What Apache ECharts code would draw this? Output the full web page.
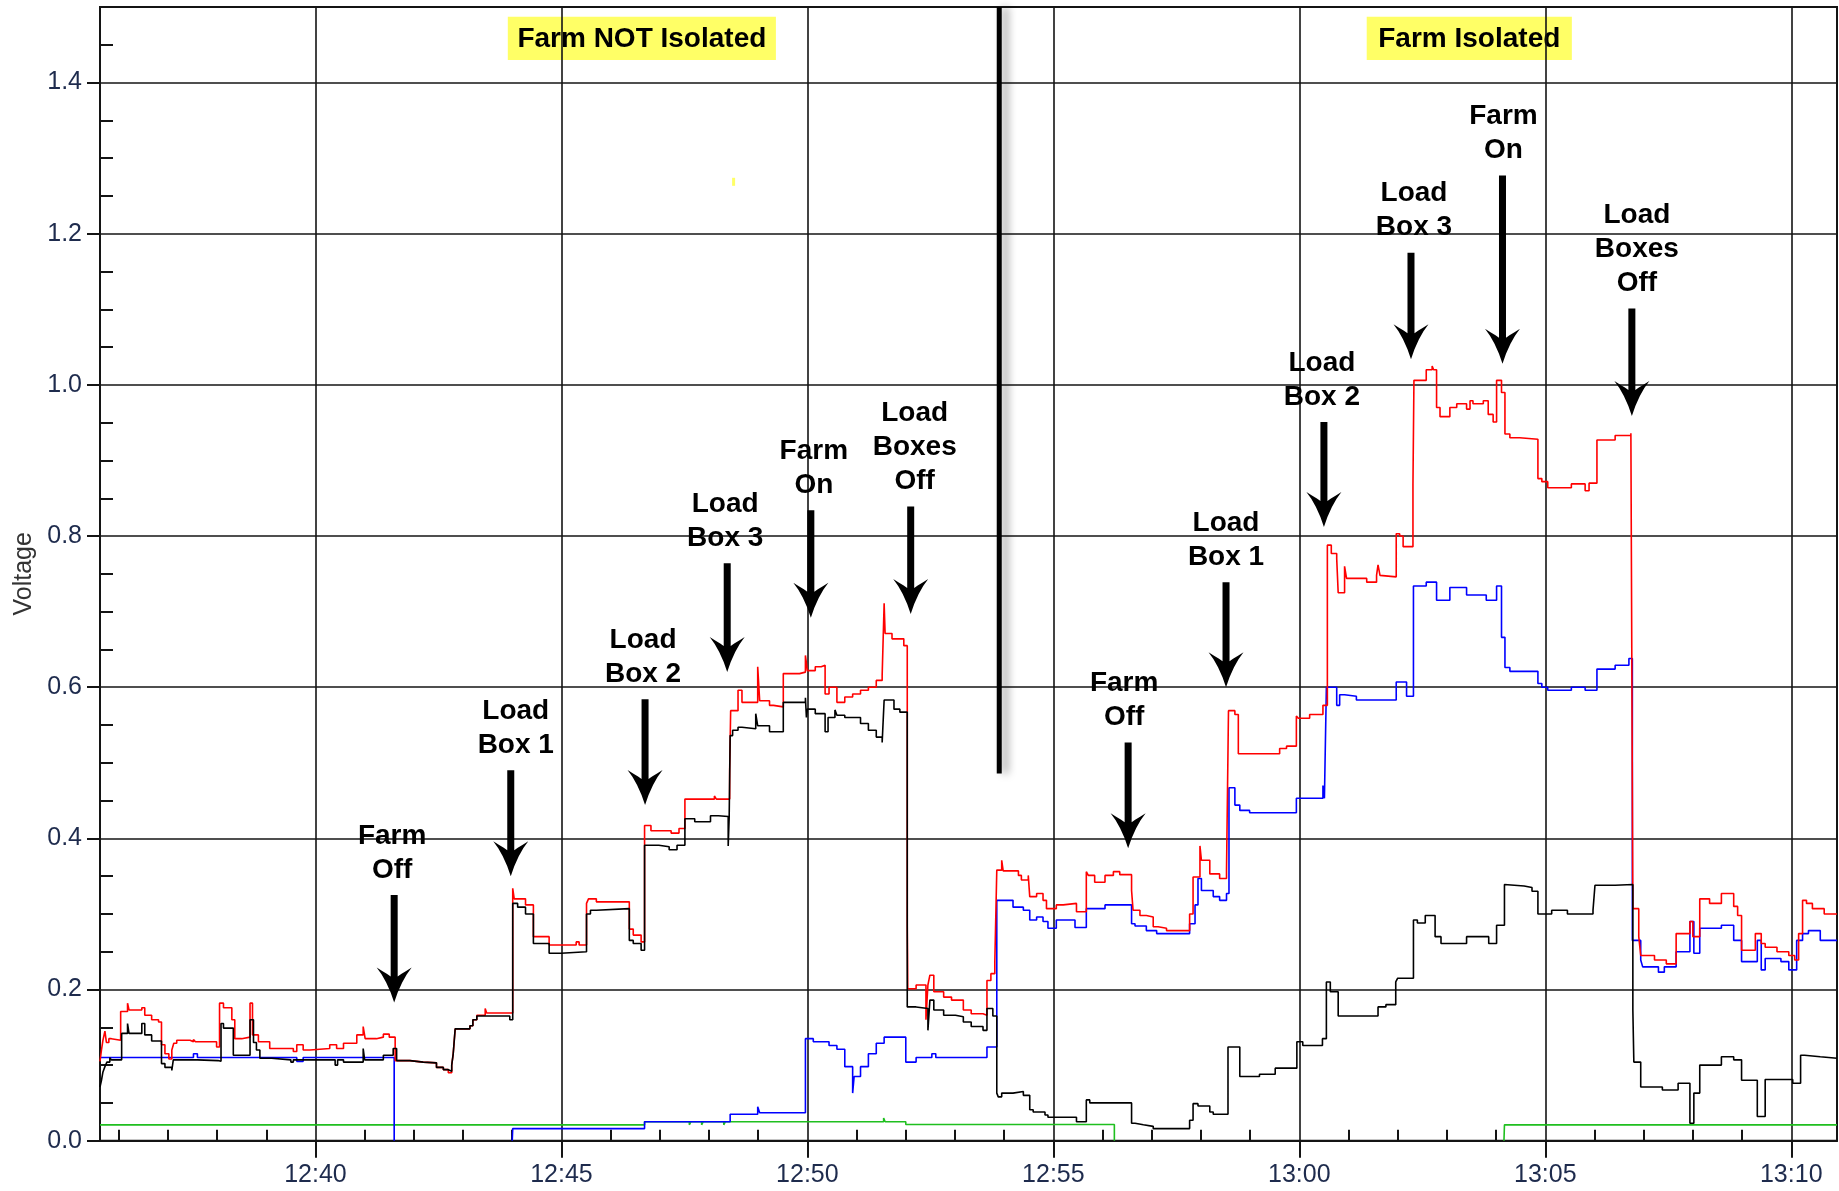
<!DOCTYPE html>
<html>
<head>
<meta charset="utf-8">
<title>Voltage</title>
<script src="https://cdn.jsdelivr.net/npm/echarts@6/dist/echarts.min.js"></script>
<style>
  html, body { margin: 0; padding: 0; background: #ffffff; }
  #chart { width: 1839px; height: 1191px; }
</style>
</head>
<body>
<div id="chart"></div>
<script>
// Time is expressed in minutes after 12:00; each pair is [time, level] and the
// level holds until the next pair (stepped trace).
const redTrace = [
  [35.62,0.105],[35.65,0.12],[35.68,0.133],[35.72,0.145],[35.75,0.13],[35.8,0.135],[35.85,0.133],
  [36.04,0.171],[36.18,0.182],[36.21,0.173],[36.47,0.176],[36.53,0.166],[36.67,0.16],[36.81,0.157],[36.87,0.127],[36.94,0.115],[37.02,0.108],[37.08,0.12],[37.12,0.129],[37.18,0.133],[37.45,0.131],[37.52,0.134],[37.56,0.131],[37.99,0.124],[38.05,0.182],[38.13,0.176],[38.3,0.16],[38.36,0.135],[38.5,0.137],[38.67,0.182],[38.72,0.14],[38.84,0.131],[39.07,0.122],[39.55,0.118],[39.62,0.127],[39.75,0.12],[39.89,0.122],[40.29,0.127],[40.43,0.122],[40.57,0.129],[40.84,0.14],[40.97,0.151],[41.01,0.135],[41.24,0.137],[41.38,0.141],[41.5,0.137],
  [41.62,0.106],[41.92,0.104],[42.19,0.103],[42.46,0.097],[42.6,0.094],[42.7,0.09],[42.77,0.1],[42.8,0.115],[42.84,0.148],[43.14,0.152],[43.2,0.16],[43.28,0.166],[43.45,0.175],[43.48,0.169],
  [44.01,0.334],[44.04,0.32],[44.27,0.312],[44.43,0.27],[44.75,0.259],[45.3,0.263],[45.36,0.259],[45.51,0.314],[45.55,0.32],[45.71,0.316],[46.38,0.28],[46.46,0.272],[46.62,0.263],
  [46.69,0.417],[46.82,0.41],[47.23,0.407],[47.39,0.413],[47.51,0.452],[48.11,0.456],[48.15,0.452],[48.42,0.49],[48.44,0.569],[48.59,0.596],[48.67,0.58],[48.99,0.627],[49.03,0.582],[49.23,0.576],[49.31,0.574],[49.51,0.618],[49.84,0.62],[49.96,0.642],[50.0,0.622],[50.16,0.627],[50.28,0.629],[50.36,0.591],[50.44,0.6],[50.6,0.58],[50.76,0.587],[50.92,0.591],[51.08,0.596],[51.24,0.6],[51.4,0.609],[51.52,0.616],[51.56,0.711],[51.58,0.671],[51.72,0.664],[51.96,0.655],
  [52.03,0.285],[52.035,0.248],[52.04,0.201],[52.21,0.206],[52.41,0.16],[52.45,0.206],[52.49,0.219],[52.57,0.197],[52.77,0.19],[52.93,0.186],[53.17,0.173],[53.33,0.168],[53.57,0.166],[53.65,0.212],[53.73,0.221],[53.81,0.237],
  [53.85,0.358],[53.95,0.371],[53.98,0.357],[54.29,0.351],[54.35,0.345],[54.49,0.351],[54.52,0.323],[54.66,0.327],[54.79,0.318],[54.86,0.307],[55.06,0.312],[55.2,0.314],[55.47,0.303],[55.67,0.356],[55.71,0.351],[55.84,0.342],[56.05,0.351],[56.22,0.356],[56.35,0.352],[56.59,0.331],[56.62,0.305],[56.76,0.298],[56.89,0.296],[57.03,0.283],[57.13,0.281],[57.3,0.278],[57.77,0.3],[57.84,0.349],[57.98,0.39],[58.01,0.371],[58.18,0.353],[58.38,0.347],[58.52,0.358],
  [58.56,0.569],[58.69,0.564],[58.76,0.512],[59.6,0.519],[59.74,0.522],[59.94,0.562],[59.98,0.559],[60.21,0.564],[60.48,0.576],
  [60.57,0.788],[60.65,0.777],[60.76,0.77],[60.79,0.725],[60.92,0.76],[60.96,0.744],[61.37,0.739],[61.57,0.748],[61.6,0.762],[61.64,0.748],[61.67,0.746],[61.97,0.803],[62.04,0.8],[62.11,0.786],
  [62.31,0.869],[62.33,1.006],[62.58,1.02],[62.7,1.025],[62.73,1.02],[62.79,0.97],[62.86,0.958],[63.06,0.97],[63.2,0.975],[63.4,0.968],[63.47,0.979],[63.53,0.975],[63.74,0.979],[63.84,0.961],[63.94,0.951],[64.01,1.006],[64.11,0.99],[64.18,0.935],[64.28,0.93],[64.48,0.928],[64.85,0.876],[64.93,0.872],[65.05,0.864],[65.53,0.869],[65.81,0.86],[65.89,0.87],[66.05,0.927],[66.42,0.933],[66.74,0.936],
  [66.78,0.307],[66.9,0.27],[66.94,0.245],[67.22,0.239],[67.46,0.234],[67.66,0.274],[67.94,0.29],[68.0,0.27],[68.14,0.32],[68.34,0.314],[68.58,0.327],[68.83,0.31],[68.91,0.298],[68.99,0.252],[69.27,0.274],[69.39,0.261],[69.47,0.256],[69.71,0.25],[69.95,0.245],[70.07,0.239],[70.15,0.274],[70.23,0.318],[70.31,0.314],[70.43,0.307],[70.67,0.3],[70.93,0.3]
];

const blackTrace = [
  [35.62,0.071],[35.65,0.08],[35.68,0.091],[35.72,0.098],[35.76,0.104],[35.82,0.11],[35.85,0.107],
  [36.06,0.142],[36.18,0.155],[36.21,0.142],[36.47,0.155],[36.53,0.14],[36.67,0.132],[36.87,0.102],[36.94,0.097],[37.08,0.093],[37.11,0.107],[37.6,0.106],[38.02,0.105],[38.08,0.155],[38.13,0.149],[38.33,0.113],[38.67,0.16],[38.74,0.13],[38.8,0.12],[38.87,0.109],[39.11,0.107],[39.5,0.104],[39.55,0.107],[40.4,0.1],[40.45,0.107],[40.57,0.104],[40.97,0.122],[41.0,0.107],[41.38,0.113],[41.58,0.122],
  [41.65,0.106],[41.92,0.104],[42.19,0.103],[42.46,0.097],[42.6,0.094],[42.7,0.092],[42.77,0.1],[42.8,0.115],[42.84,0.148],[43.14,0.152],[43.2,0.16],[43.28,0.165],[43.95,0.16],
  [44.01,0.314],[44.11,0.309],[44.27,0.3],[44.43,0.261],[44.75,0.248],[44.99,0.25],[45.51,0.3],[45.59,0.305],[45.71,0.307],[46.38,0.265],[46.46,0.261],[46.62,0.252],
  [46.69,0.391],[46.98,0.389],[47.19,0.385],[47.35,0.391],[47.51,0.426],[47.71,0.422],[48.03,0.43],[48.19,0.429],[48.39,0.39],[48.41,0.428],
  [48.43,0.536],[48.48,0.543],[48.59,0.547],[48.67,0.545],[48.95,0.565],[48.99,0.549],[49.23,0.541],[49.51,0.58],[49.96,0.586],[49.98,0.56],[50.0,0.571],[50.16,0.565],[50.36,0.541],[50.42,0.56],[50.56,0.57],[50.6,0.563],[50.76,0.56],[51.08,0.552],[51.24,0.543],[51.4,0.534],[51.52,0.527],[51.56,0.583],[51.76,0.571],[51.88,0.567],
  [52.03,0.177],[52.21,0.175],[52.45,0.146],[52.49,0.186],[52.57,0.173],[52.77,0.166],[53.01,0.164],[53.17,0.157],[53.33,0.151],[53.57,0.146],[53.65,0.175],[53.77,0.165],
  [53.85,0.063],[53.88,0.058],[53.95,0.063],[54.18,0.065],[54.39,0.06],[54.52,0.041],[54.59,0.038],[54.83,0.034],[54.89,0.031],[55.47,0.025],[55.67,0.054],[55.74,0.05],[56.59,0.023],[56.66,0.021],[56.83,0.019],[57.03,0.016],[57.77,0.027],[57.84,0.049],[57.94,0.046],[58.18,0.038],[58.25,0.035],
  [58.55,0.124],[58.71,0.124],[58.79,0.085],[59.19,0.088],[59.51,0.096],[59.95,0.131],[60.07,0.126],[60.47,0.135],[60.55,0.21],[60.63,0.197],[60.79,0.165],[61.6,0.177],[61.76,0.18],[61.96,0.21],[62.0,0.215],[62.32,0.292],[62.4,0.288],[62.56,0.298],[62.76,0.27],[62.88,0.261],[63.4,0.27],[63.85,0.261],[64.01,0.285],[64.17,0.339],[64.21,0.337],[64.57,0.335],[64.73,0.33],[64.85,0.3],[65.13,0.305],[65.45,0.3],[65.97,0.305],[66.01,0.338],[66.42,0.339],
  [66.78,0.173],[66.8,0.104],[66.94,0.071],[67.38,0.067],[67.7,0.076],[67.94,0.023],[68.02,0.063],[68.14,0.1],[68.58,0.111],[68.83,0.107],[68.99,0.08],[69.31,0.032],[69.47,0.081],[70.03,0.076],[70.19,0.113],[70.27,0.111],[70.59,0.109],[70.93,0.109]
];

const blueTrace = [
  [35.62,0.11],[37.52,0.115],[37.6,0.11],[39.62,0.105],[39.75,0.11],[41.6,0],[41.61,null],[44.0,0],[44.01,0.016],[46.69,0.025],[48.43,0.035],[48.99,0.045],[49.03,0.037],
  [49.96,0.135],[50.12,0.131],[50.44,0.126],[50.6,0.121],[50.76,0.098],[50.92,0.063],[50.95,0.085],[51.08,0.098],[51.24,0.115],[51.4,0.129],[51.56,0.137],[52.0,0.104],[52.21,0.11],[52.53,0.115],[52.61,0.11],[53.65,0.124],
  [53.85,0.318],[54.18,0.309],[54.39,0.305],[54.52,0.292],[54.66,0.296],[54.79,0.29],[54.89,0.281],[55.06,0.292],[55.44,0.282],[55.67,0.307],[56.05,0.312],[56.59,0.287],[56.66,0.284],[56.89,0.278],[57.1,0.274],[57.77,0.287],[57.88,0.312],[57.94,0.347],[58.01,0.331],[58.25,0.323],[58.38,0.318],[58.52,0.327],
  [58.57,0.467],[58.69,0.444],[58.79,0.437],[58.99,0.434],[59.94,0.453],[60.48,0.47],[60.51,0.453],
  [60.55,0.6],[60.76,0.576],[60.82,0.59],[60.92,0.588],[61.16,0.583],[61.97,0.607],[62.18,0.588],
  [62.32,0.734],[62.58,0.739],[62.79,0.715],[63.06,0.732],[63.4,0.722],[63.8,0.715],[64.01,0.734],[64.11,0.666],[64.18,0.626],[64.28,0.621],[64.85,0.605],[64.93,0.6],[65.05,0.596],[65.53,0.6],[65.81,0.596],[66.05,0.624],[66.42,0.629],[66.7,0.638],
  [66.77,0.265],[66.94,0.239],[66.98,0.23],[67.3,0.223],[67.42,0.23],[67.66,0.25],[67.94,0.29],[68.02,0.248],[68.14,0.281],[68.58,0.285],[68.83,0.265],[68.99,0.237],[69.31,0.265],[69.39,0.226],[69.47,0.241],[69.79,0.237],[69.95,0.226],[70.11,0.265],[70.23,0.274],[70.35,0.278],[70.59,0.265],[70.93,0.265]
];

const greenTrace = [
  [35.62,0.021],[46.69,0.025],[47.6,0.021],[47.63,0.025],[47.85,0.021],[47.88,0.025],[48.3,0.021],[48.33,0.025],[51.55,0.03],[51.58,0.025],[52.0,0.0215],[56.24,0],[56.25,null],[64.16,0],[64.17,0.021],[70.93,0.021]
];

// Axis ticks and labels
const timeRange = [35.62, 70.93];
const timeTicks = [40, 45, 50, 55, 60, 65, 70];
const minuteTicks = [36, 37, 38, 39, 41, 42, 43, 44, 46, 47, 48, 49, 51, 52, 53, 54, 56, 57, 58, 59, 61, 62, 63, 64, 66, 67, 68, 69];
const voltTicks = [0, 0.2, 0.4, 0.6, 0.8, 1.0, 1.2, 1.4];
const voltMinorTicks = [0.05, 0.1, 0.15, 0.25, 0.3, 0.35, 0.45, 0.5, 0.55, 0.65, 0.7, 0.75, 0.85, 0.9, 0.95, 1.05, 1.1, 1.15, 1.25, 1.3, 1.35, 1.45];

// Event annotations
const eventText = ['Farm\nOff', 'Load\nBox 1', 'Load\nBox 2', 'Load\nBox 3', 'Farm\nOn', 'Load\nBoxes\nOff',
                   'Farm\nOff', 'Load\nBox 1', 'Load\nBox 2', 'Load\nBox 3', 'Farm\nOn', 'Load\nBoxes\nOff'];
const eventTime = [41.6, 43.97, 46.7, 48.37, 50.07, 52.1, 56.52, 58.51, 60.5, 62.27, 64.13, 66.76];
const arrowTip = [0.183, 0.35, 0.444, 0.62, 0.692, 0.697, 0.387, 0.6, 0.812, 1.034, 1.028, 0.959];
const arrowTop = [0.325, 0.49, 0.584, 0.764, 0.834, 0.839, 0.527, 0.739, 0.951, 1.175, 1.277, 1.101];
const regionText = ['Farm NOT Isolated', 'Farm Isolated'];
const regionSpan = [[43.91, 49.36], [61.37, 65.54]];
const regionBand = [1.43, 1.487];
const dividerTime = 53.9;
const dividerLow = 0.486;

const FONT = '"Liberation Sans", Arial, Helvetica, sans-serif';
const INK = '#141414';
const LABEL_INK = '#1e2b4d';

function clock(v) {
  const h = 12 + Math.floor(v / 60);
  const m = Math.round(v - (h - 12) * 60);
  return h + ':' + (m < 10 ? '0' : '') + m;
}

function trace(name, data, color, z) {
  return {
    type: 'line', name: name, data: data, step: 'end',
    symbol: 'none', showSymbol: false, silent: true, connectNulls: false,
    lineStyle: { color: color, width: 1.6 }, itemStyle: { color: color },
    emphasis: { disabled: true }, z: z, animation: false
  };
}

const option = {
  animation: false,
  grid: { left: 100, right: 2, top: 7, bottom: 50.3, show: true, borderColor: INK, borderWidth: 2,
          backgroundColor: 'transparent', containLabel: false, outerBoundsMode: 'none' },
  xAxis: [
    {
      type: 'value', min: timeRange[0], max: timeRange[1], position: 'bottom',
      axisLine: { show: true, onZero: false, lineStyle: { color: INK, width: 2 } },
      axisTick: { show: true, inside: false, length: 17, customValues: timeTicks, lineStyle: { color: INK, width: 2 } },
      axisLabel: { show: true, customValues: timeTicks, formatter: clock, margin: 22,
                   fontSize: 25, fontFamily: FONT, color: LABEL_INK },
      splitLine: { show: true, lineStyle: { color: INK, width: 1.6 } },
      minorTick: { show: false }
    },
    {
      type: 'value', min: timeRange[0], max: timeRange[1], position: 'bottom', offset: 0,
      axisLine: { show: false, onZero: false },
      axisTick: { show: true, inside: true, length: 11, customValues: minuteTicks, lineStyle: { color: INK, width: 2 } },
      axisLabel: { show: false },
      splitLine: { show: false }
    }
  ],
  yAxis: [
    {
      type: 'value', min: 0, max: 1.5, position: 'left',
      name: 'Voltage', nameLocation: 'middle', nameGap: 62,
      nameTextStyle: { fontSize: 25, fontFamily: FONT, color: '#333333' },
      axisLine: { show: true, onZero: false, lineStyle: { color: INK, width: 2 } },
      axisTick: { show: true, inside: false, length: 13, customValues: voltTicks, lineStyle: { color: INK, width: 2 } },
      axisLabel: { show: true, customValues: voltTicks, formatter: v => v.toFixed(1), margin: 18,
                   fontSize: 25, fontFamily: FONT, color: LABEL_INK },
      splitLine: { show: true, lineStyle: { color: INK, width: 1.6 } }
    },
    {
      type: 'value', min: 0, max: 1.5, position: 'left', offset: 0,
      axisLine: { show: false, onZero: false },
      axisTick: { show: true, inside: true, length: 13, customValues: voltMinorTicks, lineStyle: { color: INK, width: 2 } },
      axisLabel: { show: false },
      splitLine: { show: false }
    }
  ],
  series: [
    trace('Trace D', greenTrace, '#1fbf1f', 2),
    trace('Trace C', blueTrace, '#0000ff', 3),
    trace('Trace A', redTrace, '#ff0000', 4),
    trace('Trace B', blackTrace, '#000000', 5)
  ]
};

const chart = echarts.init(document.getElementById('chart'), null, { renderer: 'canvas' });
chart.setOption(option);

function toPx(t, v) { return chart.convertToPixel({ gridIndex: 0 }, [t, v]); }

// Solid barbed arrow pointing down, tip at the local origin, shaft of the given length.
function arrowPoints(len) {
  const s = 3.5;
  return [
    [0, 0], [-3.5, -10], [-8, -20], [-12.5, -28], [-17.5, -35],
    [-12, -31.5], [-7, -28.5], [-s, -26], [-s, -len], [s, -len], [s, -26],
    [7, -28.5], [12, -31.5], [17.5, -35], [12.5, -28], [8, -20], [3.5, -10]
  ];
}

const textNudge = [-2, 5, -2, -2, 3, 4, -4, 0, -2, 3, 1, 5];
const elements = [];

regionText.forEach((txt, i) => {
  const a = toPx(regionSpan[i][0], regionBand[1]);
  const b = toPx(regionSpan[i][1], regionBand[0]);
  elements.push({
    type: 'rect', silent: true, z: -1,
    shape: { x: a[0], y: a[1], width: b[0] - a[0], height: b[1] - a[1] },
    style: { fill: '#ffff66' }
  });
  elements.push({
    type: 'text', silent: true, z: -1,
    x: (a[0] + b[0]) / 2, y: (a[1] + b[1]) / 2 + 1,
    style: { text: txt, fill: '#000', fontSize: 28, fontWeight: 'bold', fontFamily: FONT,
             align: 'center', textAlign: 'center', verticalAlign: 'middle', textVerticalAlign: 'middle' }
  });
});

eventTime.forEach((t, i) => {
  const tip = toPx(t, arrowTip[i]);
  const top = toPx(t, arrowTop[i]);
  elements.push({
    type: 'polygon', silent: true, z: 10, x: tip[0], y: tip[1],
    shape: { points: arrowPoints(tip[1] - top[1]) },
    style: { fill: '#000' }
  });
  elements.push({
    type: 'text', silent: true, z: 10, x: tip[0] + textNudge[i], y: top[1] - 8,
    style: { text: eventText[i], fill: '#000', fontSize: 28, fontWeight: 'bold', fontFamily: FONT,
             lineHeight: 34, align: 'center', textAlign: 'center',
             verticalAlign: 'bottom', textVerticalAlign: 'bottom' }
  });
});

const d0 = toPx(dividerTime, 1.5);
const d1 = toPx(dividerTime, dividerLow);
elements.push({
  type: 'line', silent: true, z: 9,
  shape: { x1: d0[0], y1: d0[1], x2: d1[0], y2: d1[1] },
  style: { stroke: '#000', lineWidth: 5, shadowColor: 'rgba(0,0,0,0.4)', shadowBlur: 8, shadowOffsetX: 6 }
});

const speck = toPx(48.5, 1.274);
elements.push({
  type: 'rect', silent: true, z: 1,
  shape: { x: speck[0] - 1.5, y: speck[1], width: 3, height: 8 },
  style: { fill: '#ffff66' }
});

chart.setOption({ graphic: { elements: elements } });
</script>
</body>
</html>
